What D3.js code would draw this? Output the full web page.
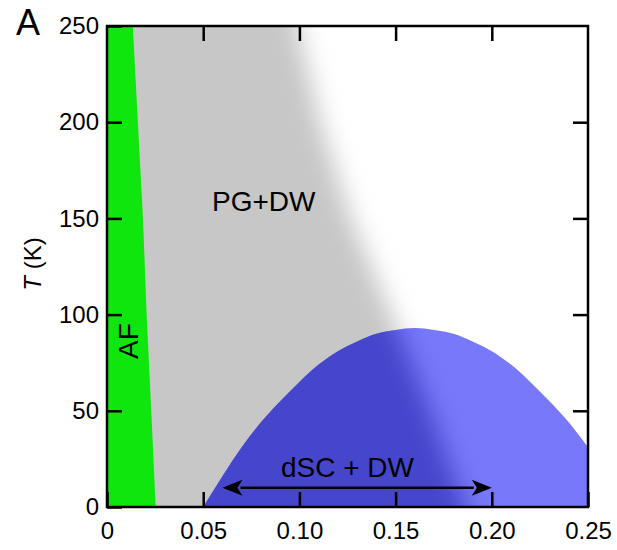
<!DOCTYPE html>
<html>
<head>
    <title>Phase diagram</title>
    <script src="https://d3js.org/d3.v7.min.js"></script>
    <style>
        body { margin: 0; background: #fff; }
        text { font-family: "Liberation Sans", Arial, sans-serif; }
    </style>
</head>
<body>
    <div id="chart"></div>
    <script>
        // doping values and temperatures
        const xTicks = [0, 0.05, 0.10, 0.15, 0.20, 0.25];
        const xTickLabels = ["0", "0.05", "0.10", "0.15", "0.20", "0.25"];
        const yTicks = [0, 50, 100, 150, 200, 250];

        // AF boundary (T, x)
        const afT = [250, 150, 100, 50, 0];
        const afX = [0.0134, 0.0187, 0.0206, 0.0230, 0.0253];

        // right edge of the PG+DW region (T, x), drawn blurred
        const pgT = [290, 250, 200, 150, 100, 50, 0, -40];
        const pgX = [0.097, 0.099, 0.111, 0.127, 0.148, 0.168, 0.186, 0.200];

        // superconducting dome
        const domeX = [0.05, 0.06, 0.07, 0.08, 0.09, 0.10, 0.11, 0.12, 0.13, 0.14, 0.15, 0.16,
                       0.17, 0.18, 0.19, 0.20, 0.21, 0.22, 0.23, 0.24, 0.25];
        const domeT = [0, 16, 31, 44, 55, 65, 74, 81, 86, 90, 92, 93,
                       92, 90, 86, 81, 74, 65, 55, 44, 31];

        // double arrow under the dSC + DW label
        const arrowX = [0.06, 0.20];
        const arrowT = 10;

        const W = 617, H = 550;
        const m = {left: 107, right: 588, top: 26, bottom: 507};

        const x = d3.scaleLinear().domain([0, 0.25]).range([m.left, m.right]);
        const y = d3.scaleLinear().domain([0, 250]).range([m.bottom, m.top]);

        const svg = d3.select("#chart").append("svg")
            .attr("width", W).attr("height", H);

        const defs = svg.append("defs");
        defs.append("clipPath").attr("id", "plotClip")
            .append("rect").attr("x", m.left).attr("y", m.top)
            .attr("width", m.right - m.left).attr("height", m.bottom - m.top);

        const blur = defs.append("filter").attr("id", "soft")
            .attr("filterUnits", "userSpaceOnUse")
            .attr("x", -100).attr("y", -100).attr("width", W + 200).attr("height", H + 200);
        blur.append("feGaussianBlur").attr("stdDeviation", 12);

        // gray region polygon: from left of plot to the blurred edge
        const pgPts = pgT.map((t, i) => [x(pgX[i]), y(t)]);
        const pgPoly = [[x(-0.05), y(pgT[0])], ...pgPts, [x(-0.05), y(pgT[pgT.length - 1])]];
        const polyLine = d3.line();

        const mask = defs.append("mask").attr("id", "pgMask")
            .attr("maskUnits", "userSpaceOnUse")
            .attr("x", 0).attr("y", 0).attr("width", W).attr("height", H);
        mask.append("path").attr("d", polyLine(pgPoly) + "Z")
            .attr("fill", "#fff").attr("filter", "url(#soft)");

        const plot = svg.append("g").attr("clip-path", "url(#plotClip)");

        plot.append("path")
            .attr("d", polyLine(pgPoly) + "Z")
            .attr("fill", "#c7c7c7")
            .attr("filter", "url(#soft)");

        const dome = d3.area()
            .x((d, i) => x(domeX[i]))
            .y0(y(0))
            .y1((d, i) => y(domeT[i]))
            .curve(d3.curveMonotoneX);

        plot.append("path").attr("d", dome(domeX)).attr("fill", "#7878fa");
        plot.append("path").attr("d", dome(domeX)).attr("fill", "#4646cc")
            .attr("mask", "url(#pgMask)");

        const af = d3.area()
            .y((d, i) => y(afT[i]))
            .x0(x(0))
            .x1((d, i) => x(afX[i]));
        plot.append("path").attr("d", af(afT)).attr("fill", "#0ee60e");

        // labels inside the plot
        svg.append("text").attr("x", 212).attr("y", 211)
            .style("font-size", "28px").text("PG+DW");

        svg.append("text")
            .attr("transform", `translate(138,341) rotate(-90)`)
            .attr("text-anchor", "middle")
            .style("font-size", "28px").text("AF");

        svg.append("text").attr("x", x(0.125)).attr("y", y(15.5))
            .attr("text-anchor", "middle")
            .style("font-size", "28px").text("dSC + DW");

        // double arrow
        const ax0 = x(arrowX[0]), ax1 = x(arrowX[1]), ay = y(arrowT);
        const headL = 20, headW = 8;
        svg.append("line")
            .attr("x1", ax0 + headL - 2).attr("x2", ax1 - headL + 2)
            .attr("y1", ay).attr("y2", ay)
            .attr("stroke", "#000").attr("stroke-width", 2.5);
        svg.append("path")
            .attr("d", `M${ax0},${ay} L${ax0 + headL},${ay - headW} L${ax0 + headL - 5},${ay} L${ax0 + headL},${ay + headW} Z`)
            .attr("fill", "#000");
        svg.append("path")
            .attr("d", `M${ax1},${ay} L${ax1 - headL},${ay - headW} L${ax1 - headL + 5},${ay} L${ax1 - headL},${ay + headW} Z`)
            .attr("fill", "#000");

        // axes: ticks point inward on all four sides
        const styleAxis = g => {
            g.select(".domain").remove();
            g.selectAll("line").attr("stroke", "#000").attr("stroke-width", 2.5);
            g.selectAll("text").style("font-size", "24px").attr("fill", "#000")
                .style("font-family", "'Liberation Sans', Arial, sans-serif");
        };

        svg.append("g").attr("transform", `translate(0,${m.bottom})`)
            .call(d3.axisBottom(x).tickValues(xTicks).tickSize(-15).tickPadding(15)
                .tickFormat((d, i) => xTickLabels[i]))
            .call(styleAxis);

        svg.append("g").attr("transform", `translate(${m.left},0)`)
            .call(d3.axisLeft(y).tickValues(yTicks).tickSize(-15).tickPadding(8))
            .call(styleAxis);

        svg.append("g").attr("transform", `translate(0,${m.top})`)
            .call(d3.axisTop(x).tickValues(xTicks.slice(1, -1)).tickSize(-15).tickFormat(""))
            .call(styleAxis);

        svg.append("g").attr("transform", `translate(${m.right},0)`)
            .call(d3.axisRight(y).tickValues(yTicks.slice(1, -1)).tickSize(-15).tickFormat(""))
            .call(styleAxis);

        svg.append("rect")
            .attr("x", m.left).attr("y", m.top)
            .attr("width", m.right - m.left).attr("height", m.bottom - m.top)
            .attr("fill", "none").attr("stroke", "#000").attr("stroke-width", 2.5);

        // axis title and panel letter
        const yTitle = svg.append("text")
            .attr("transform", `translate(41,264) rotate(-90)`)
            .attr("text-anchor", "middle")
            .style("font-size", "24px");
        yTitle.append("tspan").style("font-style", "italic").text("T");
        yTitle.append("tspan").text(" (K)");

        svg.append("text").attr("x", 16).attr("y", 35)
            .style("font-size", "36px").text("A");
    </script>
</body>
</html>
